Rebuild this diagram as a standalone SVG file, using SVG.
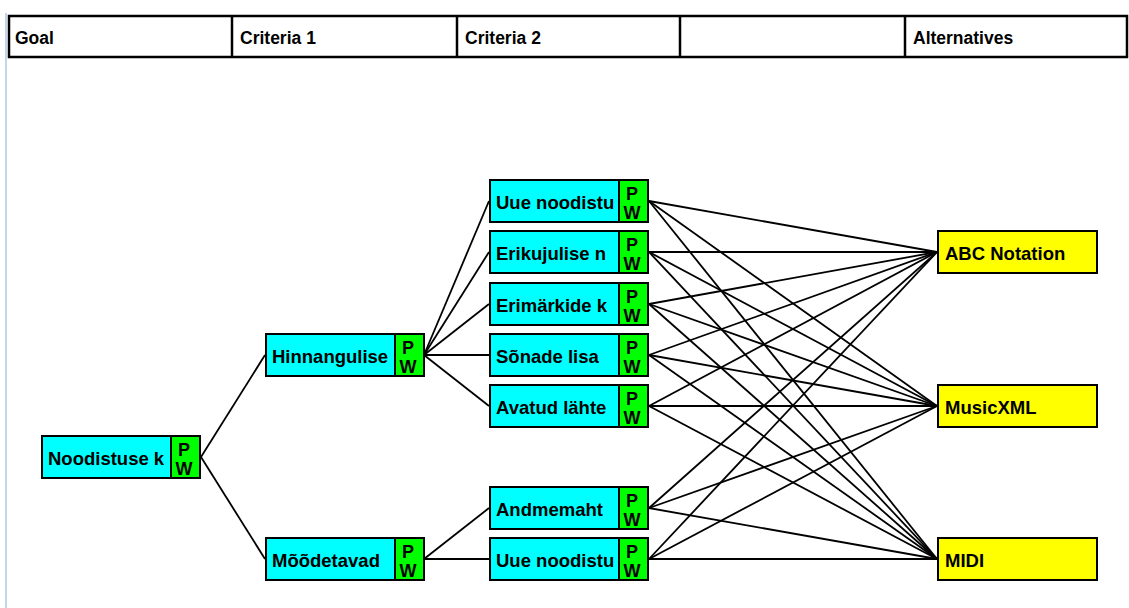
<svg xmlns="http://www.w3.org/2000/svg" width="1129" height="608" viewBox="0 0 1129 608">
<style>
.hdr{fill:#fff;stroke:#000;stroke-width:2.5}
.div{stroke:#000;stroke-width:2.5}
.ht{font-family:"Liberation Sans",Arial,sans-serif;font-weight:bold;font-size:17.5px;fill:#000}
.box{stroke:#000;stroke-width:2}
.crit{fill:#00ffff}
.alt{fill:#ffff00}
.pw{fill:#00ff00;stroke:#000;stroke-width:2}
.nt{font-family:"Liberation Sans",Arial,sans-serif;font-weight:bold;font-size:18.5px;fill:#000}
.pt{font-family:"Liberation Sans",Arial,sans-serif;font-weight:bold;font-size:18px;fill:#000;text-anchor:middle}
.c{stroke:#000;stroke-width:1.8;fill:none}
</style>
<rect width="1129" height="608" fill="#fff"/>
<line x1="6" y1="13" x2="6" y2="608" stroke="#c3d6ec" stroke-width="2"/>
<g id="header">
<rect class="hdr" x="9" y="16" width="1118" height="41"/>
<line class="div" x1="232" y1="16" x2="232" y2="57"/>
<line class="div" x1="457" y1="16" x2="457" y2="57"/>
<line class="div" x1="680" y1="16" x2="680" y2="57"/>
<line class="div" x1="905" y1="16" x2="905" y2="57"/>
<text class="ht" x="15" y="44">Goal</text>
<text class="ht" x="240" y="44">Criteria 1</text>
<text class="ht" x="465" y="44">Criteria 2</text>
<text class="ht" x="913" y="44">Alternatives</text>
</g>
<g id="connectors">
<line class="c" x1="201" y1="457" x2="265" y2="355"/>
<line class="c" x1="201" y1="457" x2="265" y2="559"/>
<line class="c" x1="424" y1="355" x2="489" y2="201"/>
<line class="c" x1="424" y1="355" x2="489" y2="252"/>
<line class="c" x1="424" y1="355" x2="489" y2="304"/>
<line class="c" x1="424" y1="355" x2="489" y2="355"/>
<line class="c" x1="424" y1="355" x2="489" y2="406"/>
<line class="c" x1="424" y1="559" x2="489" y2="508"/>
<line class="c" x1="424" y1="559" x2="489" y2="559"/>
<line class="c" x1="649" y1="201" x2="937" y2="252"/>
<line class="c" x1="649" y1="201" x2="937" y2="406"/>
<line class="c" x1="649" y1="201" x2="937" y2="559"/>
<line class="c" x1="649" y1="252" x2="937" y2="252"/>
<line class="c" x1="649" y1="252" x2="937" y2="406"/>
<line class="c" x1="649" y1="252" x2="937" y2="559"/>
<line class="c" x1="649" y1="304" x2="937" y2="252"/>
<line class="c" x1="649" y1="304" x2="937" y2="406"/>
<line class="c" x1="649" y1="304" x2="937" y2="559"/>
<line class="c" x1="649" y1="355" x2="937" y2="252"/>
<line class="c" x1="649" y1="355" x2="937" y2="406"/>
<line class="c" x1="649" y1="355" x2="937" y2="559"/>
<line class="c" x1="649" y1="406" x2="937" y2="252"/>
<line class="c" x1="649" y1="406" x2="937" y2="406"/>
<line class="c" x1="649" y1="406" x2="937" y2="559"/>
<line class="c" x1="649" y1="508" x2="937" y2="252"/>
<line class="c" x1="649" y1="508" x2="937" y2="406"/>
<line class="c" x1="649" y1="508" x2="937" y2="559"/>
<line class="c" x1="649" y1="559" x2="937" y2="252"/>
<line class="c" x1="649" y1="559" x2="937" y2="406"/>
<line class="c" x1="649" y1="559" x2="937" y2="559"/>
</g>
<g id="goal" transform="translate(41,435)">
<rect class="box crit" x="1" y="1" width="158" height="42"/>
<rect class="pw" x="130" y="1" width="29" height="42"/>
<text class="nt" x="7" y="30">Noodistuse k</text>
<text class="pt" x="143" y="21">P</text>
<text class="pt" x="143" y="40">W</text>
</g>
<g id="hinnangulise" transform="translate(265,333)">
<rect class="box crit" x="1" y="1" width="158" height="42"/>
<rect class="pw" x="130" y="1" width="29" height="42"/>
<text class="nt" x="7" y="30">Hinnangulise</text>
<text class="pt" x="143" y="21">P</text>
<text class="pt" x="143" y="40">W</text>
</g>
<g id="moodetavad" transform="translate(265,537)">
<rect class="box crit" x="1" y="1" width="158" height="42"/>
<rect class="pw" x="130" y="1" width="29" height="42"/>
<text class="nt" x="7" y="30">Mõõdetavad</text>
<text class="pt" x="143" y="21">P</text>
<text class="pt" x="143" y="40">W</text>
</g>
<g id="uue-noodistu-1" transform="translate(489,179)">
<rect class="box crit" x="1" y="1" width="158" height="42"/>
<rect class="pw" x="130" y="1" width="29" height="42"/>
<text class="nt" x="7" y="30">Uue noodistu</text>
<text class="pt" x="143" y="21">P</text>
<text class="pt" x="143" y="40">W</text>
</g>
<g id="erikujulise" transform="translate(489,230)">
<rect class="box crit" x="1" y="1" width="158" height="42"/>
<rect class="pw" x="130" y="1" width="29" height="42"/>
<text class="nt" x="7" y="30">Erikujulise n</text>
<text class="pt" x="143" y="21">P</text>
<text class="pt" x="143" y="40">W</text>
</g>
<g id="erimarkide" transform="translate(489,282)">
<rect class="box crit" x="1" y="1" width="158" height="42"/>
<rect class="pw" x="130" y="1" width="29" height="42"/>
<text class="nt" x="7" y="30">Erimärkide k</text>
<text class="pt" x="143" y="21">P</text>
<text class="pt" x="143" y="40">W</text>
</g>
<g id="sonade-lisa" transform="translate(489,333)">
<rect class="box crit" x="1" y="1" width="158" height="42"/>
<rect class="pw" x="130" y="1" width="29" height="42"/>
<text class="nt" x="7" y="30">Sõnade lisa</text>
<text class="pt" x="143" y="21">P</text>
<text class="pt" x="143" y="40">W</text>
</g>
<g id="avatud-lahte" transform="translate(489,384)">
<rect class="box crit" x="1" y="1" width="158" height="42"/>
<rect class="pw" x="130" y="1" width="29" height="42"/>
<text class="nt" x="7" y="30">Avatud lähte</text>
<text class="pt" x="143" y="21">P</text>
<text class="pt" x="143" y="40">W</text>
</g>
<g id="andmemaht" transform="translate(489,486)">
<rect class="box crit" x="1" y="1" width="158" height="42"/>
<rect class="pw" x="130" y="1" width="29" height="42"/>
<text class="nt" x="7" y="30">Andmemaht</text>
<text class="pt" x="143" y="21">P</text>
<text class="pt" x="143" y="40">W</text>
</g>
<g id="uue-noodistu-2" transform="translate(489,537)">
<rect class="box crit" x="1" y="1" width="158" height="42"/>
<rect class="pw" x="130" y="1" width="29" height="42"/>
<text class="nt" x="7" y="30">Uue noodistu</text>
<text class="pt" x="143" y="21">P</text>
<text class="pt" x="143" y="40">W</text>
</g>
<g id="abc-notation" transform="translate(937,230)">
<rect class="box alt" x="1" y="1" width="159" height="42"/>
<text class="nt" x="8" y="30">ABC Notation</text>
</g>
<g id="musicxml" transform="translate(937,384)">
<rect class="box alt" x="1" y="1" width="159" height="42"/>
<text class="nt" x="8" y="30">MusicXML</text>
</g>
<g id="midi" transform="translate(937,537)">
<rect class="box alt" x="1" y="1" width="159" height="42"/>
<text class="nt" x="8" y="30">MIDI</text>
</g>
</svg>
